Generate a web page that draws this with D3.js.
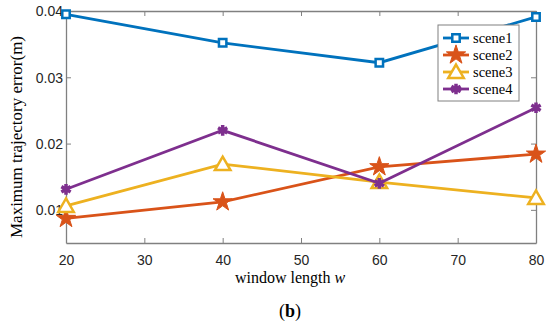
<!DOCTYPE html>
<html>
<head>
<meta charset="utf-8">
<script src="https://cdn.jsdelivr.net/npm/d3@7"></script>
<style>
  body { margin: 0; background: #fff; }
  svg { display: block; }
</style>
</head>
<body>
<div id="chart"></div>
<script>
// Chart data
const windowLengths = [20, 40, 60, 80];
const scene1 = [0.0395, 0.0352, 0.0322, 0.0391];
const scene2 = [0.0087, 0.0112, 0.0165, 0.0184];
const scene3 = [0.0106, 0.0169, 0.0142, 0.0118];
const scene4 = [0.0131, 0.0220, 0.0140, 0.0254];
const seriesNames = ["scene1", "scene2", "scene3", "scene4"];
const xTicks = [20, 30, 40, 50, 60, 70, 80];
const yTicks = [0.01, 0.02, 0.03, 0.04];

const colors = ["#0072BD", "#D95319", "#EDB120", "#7E2F8E"];
const allSeries = [scene1, scene2, scene3, scene4];

const width = 550, height = 325;
const margin = { top: 11, right: 14, bottom: 82, left: 66 };
const chartWidth = width - margin.left - margin.right;
const chartHeight = height - margin.top - margin.bottom;

const svg = d3.select("#chart")
    .append("svg")
    .attr("width", width)
    .attr("height", height);

const chart = svg.append("g")
    .attr("transform", `translate(${margin.left}, ${margin.top})`);

const xScale = d3.scaleLinear().domain([20, 80]).range([0, chartWidth]);
const yScale = d3.scaleLinear().domain([0.005, 0.04]).range([chartHeight, 0]);

const axisColor = "#808080";

// axes (inner ticks, box on)
const xAxis = chart.append("g")
    .attr("transform", `translate(0, ${chartHeight})`)
    .call(d3.axisBottom(xScale).tickValues(xTicks).tickSizeInner(-5).tickSizeOuter(0).tickPadding(12).tickFormat(d3.format("d")));
const yAxis = chart.append("g")
    .call(d3.axisLeft(yScale).tickValues(yTicks).tickSizeInner(-5).tickSizeOuter(0).tickPadding(3).tickFormat(d3.format(".2f")));
const xTop = chart.append("g")
    .call(d3.axisTop(xScale).tickValues(xTicks).tickSizeInner(-5).tickSizeOuter(0).tickFormat(""));
const yRight = chart.append("g")
    .attr("transform", `translate(${chartWidth}, 0)`)
    .call(d3.axisRight(yScale).tickValues(yTicks).tickSizeInner(-5).tickSizeOuter(0).tickFormat(""));

[xAxis, yAxis, xTop, yRight].forEach(a => {
    a.selectAll("path.domain").attr("stroke", axisColor).attr("stroke-width", 1.3);
    a.selectAll(".tick line").attr("stroke", axisColor);
    a.selectAll("text")
        .attr("fill", "#262626")
        .style("font-family", "'Liberation Sans', Arial, sans-serif")
        .style("font-size", "14px");
});
yAxis.selectAll("text").attr("dy", "0.35em");

// lines and markers
const line = d3.line()
    .x((d, i) => xScale(windowLengths[i]))
    .y(d => yScale(d));

const markerTypes = [d3.symbolSquare, d3.symbolStar, d3.symbolTriangle, d3.symbolAsterisk];
const markerSizes = [55, 115, 105, 80];

function drawMarker(g, k, x, y) {
    const sym = d3.symbol().type(markerTypes[k]).size(markerSizes[k]);
    const p = g.append("path")
        .attr("d", sym())
        .attr("transform", `translate(${x}, ${y})` + (k === 2 ? " translate(0,1.5)" : ""));
    if (k === 0) {
        p.attr("fill", "#fff").attr("stroke", colors[k]).attr("stroke-width", 2.5);
    } else if (k === 1) {
        p.attr("fill", colors[k]).attr("stroke", colors[k]).attr("stroke-width", 1);
    } else if (k === 2) {
        p.attr("fill", "#fff").attr("stroke", colors[k]).attr("stroke-width", 2.5);
    } else {
        p.attr("fill", colors[k]).attr("stroke", colors[k]).attr("stroke-width", 3.5);
    }
}

allSeries.forEach((vals, k) => {
    chart.append("path")
        .datum(vals)
        .attr("d", line)
        .attr("fill", "none")
        .attr("stroke", colors[k])
        .attr("stroke-width", 2.8);
    vals.forEach((v, i) => drawMarker(chart, k, xScale(windowLengths[i]), yScale(v)));
});

// legend
const legend = svg.append("g").attr("transform", "translate(438, 25)");
legend.append("rect")
    .attr("width", 81).attr("height", 76)
    .attr("fill", "#fff").attr("stroke", "#808080").attr("stroke-width", 1);
seriesNames.forEach((name, k) => {
    const y = 13 + k * 17;
    legend.append("line")
        .attr("x1", 5).attr("x2", 31).attr("y1", y).attr("y2", y)
        .attr("stroke", colors[k]).attr("stroke-width", 2.8);
    drawMarker(legend, k, 18, y);
    legend.append("text")
        .attr("x", 35).attr("y", y).attr("dy", "0.35em")
        .style("font-family", "'Liberation Serif', 'Times New Roman', serif")
        .style("font-size", "14.5px")
        .attr("fill", "#000")
        .text(name);
});

// axis labels
svg.append("text")
    .attr("transform", "translate(22, 137) rotate(-90)")
    .attr("text-anchor", "middle")
    .style("font-family", "'Liberation Serif', 'Times New Roman', serif")
    .style("font-size", "17px")
    .text("Maximum trajectory error(m)");

const xl = svg.append("text")
    .attr("x", 290)
    .attr("y", 283)
    .attr("text-anchor", "middle")
    .style("font-family", "'Liberation Serif', 'Times New Roman', serif")
    .style("font-size", "16px");
xl.append("tspan").text("window length ");
xl.append("tspan").style("font-style", "italic").text("w");

const cap = svg.append("text")
    .attr("x", 290)
    .attr("y", 317)
    .attr("text-anchor", "middle")
    .style("font-family", "'Liberation Serif', 'Times New Roman', serif")
    .style("font-size", "18px");
cap.append("tspan").text("(");
cap.append("tspan").style("font-weight", "bold").text("b");
cap.append("tspan").text(")");
</script>
</body>
</html>
